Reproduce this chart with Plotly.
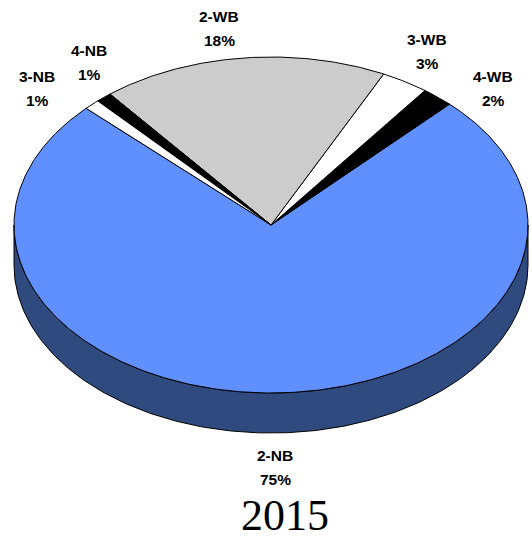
import numpy as np
import plotly.graph_objects as go

# Share of each category (percent), in drawing order going counter-clockwise
CATEGORIES = ["2-NB", "4-WB", "3-WB", "2-WB", "4-NB", "3-NB"]
SHARES = [75, 2, 3, 18, 1, 1]
PCT_LABELS = ["75%", "2%", "3%", "18%", "1%", "1%"]
TOP_COLORS = ["#6090FF", "#000000", "#FFFFFF", "#CCCCCC", "#000000", "#FFFFFF"]
SIDE_COLORS = ["#2F4A7F", "#000000", "#BFBFBF", "#8C8C8C", "#000000", "#BFBFBF"]
YEAR = "2015"

# Label anchor points (pixel space) for each category name line
LABEL_POS = [(275, 455), (493, 76), (427, 39), (219, 16), (89, 50), (37, 76)]

# Pie geometry in pixel space
W, H = 532, 543
CX, CY = 271, 225
RX, RY = 257, 168
DEPTH = 40
START_DEG = 136


def rim(t_deg, dy=0.0):
    t = np.radians(t_deg)
    return CX + RX * np.cos(t), CY - RY * np.sin(t) + dy


fig = go.Figure()

total = float(sum(SHARES))
bounds = []
a = START_DEG
for s in SHARES:
    b = a + 360.0 * s / total
    bounds.append((a, b))
    a = b

# Front wall (only the half facing the viewer, 180..360 deg)
for (a0, a1), col in zip(bounds, SIDE_COLORS):
    for k in (-360, 0, 360):
        lo, hi = max(a0, 180 + k), min(a1, 360 + k)
        if hi <= lo:
            continue
        t = np.linspace(lo, hi, 200)
        xt, yt = rim(t)
        xb, yb = rim(t[::-1], DEPTH)
        fig.add_trace(go.Scatter(
            x=np.concatenate([xt, xb, xt[:1]]),
            y=np.concatenate([yt, yb, yt[:1]]),
            mode="lines", fill="toself", fillcolor=col,
            line=dict(color="#000000", width=1),
            hoverinfo="skip", showlegend=False))

# Top face slices
for (a0, a1), col in zip(bounds, TOP_COLORS):
    t = np.linspace(a0, a1, max(4, int((a1 - a0) * 2)))
    xs, ys = rim(t)
    fig.add_trace(go.Scatter(
        x=np.concatenate([[CX], xs, [CX]]),
        y=np.concatenate([[CY], ys, [CY]]),
        mode="lines", fill="toself", fillcolor=col,
        line=dict(color="#000000", width=1),
        hoverinfo="skip", showlegend=False))

label_font = dict(family="Liberation Sans, Arial, sans-serif", size=15.5,
                  color="#000000", weight="bold")
for name, pct, (lx, ly) in zip(CATEGORIES, PCT_LABELS, LABEL_POS):
    fig.add_annotation(x=lx, y=ly, text=name, showarrow=False,
                       xanchor="center", yanchor="middle", font=label_font)
    fig.add_annotation(x=lx, y=ly + 24, text=pct, showarrow=False,
                       xanchor="center", yanchor="middle", font=label_font)

fig.add_annotation(x=285, y=515, text=YEAR, showarrow=False,
                   xanchor="center", yanchor="middle", borderpad=0,
                   font=dict(family="Liberation Serif, Times New Roman, serif",
                             size=44, color="#000000"))

fig.update_layout(
    width=W, height=H,
    margin=dict(l=0, r=0, t=0, b=0),
    paper_bgcolor="#FFFFFF", plot_bgcolor="#FFFFFF",
    xaxis=dict(range=[0, W], visible=False, fixedrange=True),
    yaxis=dict(range=[H, 0], visible=False, fixedrange=True),
    showlegend=False,
)

fig.write_html("out.html")
